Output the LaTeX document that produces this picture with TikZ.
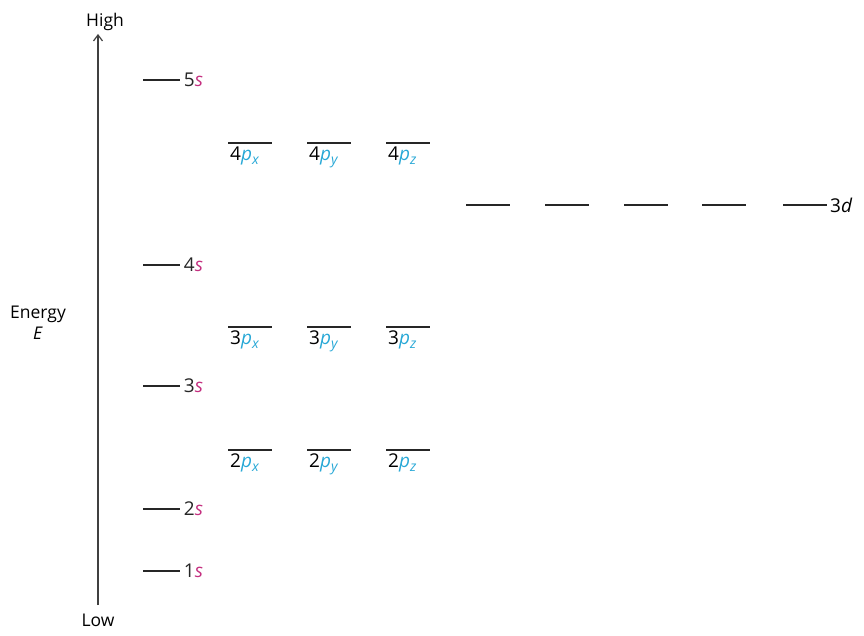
\documentclass[tikz,border=0pt]{standalone}
\usepackage{fontspec}
\setmainfont{Open Sans}
\usetikzlibrary{arrows.meta, positioning}
\definecolor{smag}{RGB}{196,48,128}
\definecolor{pcyan}{RGB}{40,168,214}

\begin{document}
\begin{tikzpicture}[
    x=1pt, y=-1pt,
    every node/.style={font=\fontsize{17.5}{21}\selectfont, inner sep=0pt},
    level/.style={line width=1.8pt, black!85},
    axis/.style={-{Straight Barb[length=6pt, width=9pt, line width=1.2pt]}, line width=1.6pt, black!75},
    slabel/.style={anchor=west, xshift=3pt, font=\fontsize{19}{22}\selectfont},
    plabel/.style={anchor=north west, xshift=2pt, yshift=-4pt, font=\fontsize{19}{22}\selectfont}
]
    \useasboundingbox (0,0) rectangle (864,636);

    % energy axis
    \coordinate (low) at (98,605);
    \coordinate (high) at (98,34);
    \draw[axis] (low) -- (high);
    \node[above=3pt of high, xshift=7pt] (hightext) {High};
    \node[below=9pt of low] (lowtext) {Low};
    \node[align=center] (energy) at (38,323) {Energy\\\textit{E}};

    % s levels
    \foreach \n/\y in {5/80, 4/265, 3/386, 2/509, 1/571} {
        \draw[level] (143,\y) -- (180,\y) coordinate (s\n)
            node[slabel] (s\n text) {\n\textcolor{smag}{\textit{s}}};
    }

    % p levels
    \foreach \n/\y in {4/143, 3/327, 2/450} {
        \foreach \c/\x in {x/228, y/307, z/386} {
            \draw[level] (\x,\y) coordinate (p\n\c) -- ++(44,0);
            \node[plabel] (p\n\c text) at (p\n\c)
                {\n\textcolor{pcyan}{\textit{p}\raisebox{-4pt}{\fontsize{14}{16}\selectfont\textit{\c}}}};
        }
    }

    % 3d levels
    \foreach \i/\x in {1/466, 2/545, 3/624, 4/702, 5/783} {
        \draw[level] (\x,205) -- ++(44,0) coordinate (d\i);
    }
    \node[slabel] (dtext) at (d5) {3\textit{d}};
\end{tikzpicture}
\end{document}
